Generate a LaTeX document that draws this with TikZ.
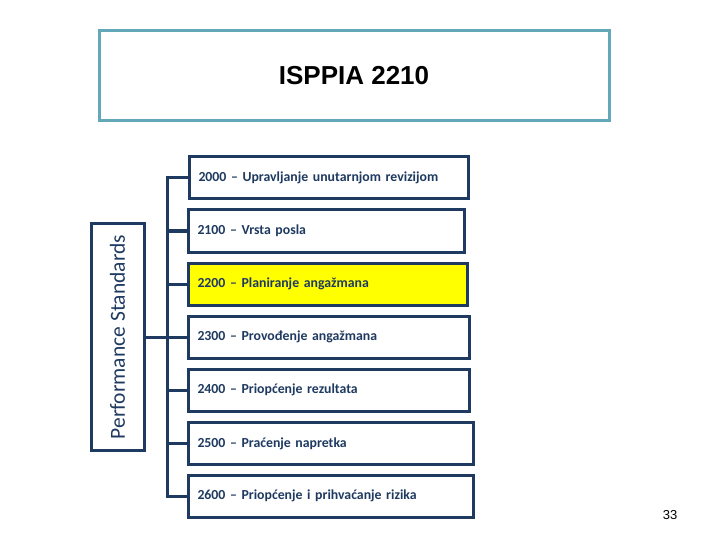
\documentclass[tikz,border=0pt]{standalone}
\usepackage{fontspec}
\setmainfont{Carlito}
\newfontfamily\arialfont{Liberation Sans}
\usetikzlibrary{positioning}
\definecolor{plava}{HTML}{1F3A60}
\definecolor{tirkiz}{HTML}{62A8B8}
\definecolor{zuta}{HTML}{FFFF00}

\begin{document}
\begin{tikzpicture}[
  x=1pt, y=-1pt,
  standard/.style={draw=plava, line width=3pt, fill=white, anchor=west,
    minimum height=42pt, inner xsep=9pt, text width=#1, align=left,
    text=plava, font=\fontsize{13.8}{16}\selectfont\bfseries},
  veza/.style={draw=plava, line width=3pt}
]
  \useasboundingbox (0,0) rectangle (720,540);
  \node[draw=tirkiz, line width=3pt, minimum width=510pt, minimum height=90pt,
    font=\arialfont\bfseries\fontsize{26}{30}\selectfont] (naslov) at (354,76) {ISPPIA 2210};
  \node[draw=plava, line width=3pt, rotate=90, minimum width=226pt, minimum height=53pt,
    text=plava, font=\fontsize{21.5}{24}\selectfont] (perf) at (117.5,337) {Performance Standards};
  % standardi izvedbe
  \node[standard=261pt] (s2000) at (188,177.5) {2000 -- Upravljanje unutarnjom revizijom};
  \node[standard=258pt] (s2100) at (187,231) {2100 -- Vrsta posla};
  \node[standard=261pt, fill=zuta] (s2200) at (187,284) {2200 -- Planiranje angažmana};
  \node[standard=263pt] (s2300) at (187,337) {2300 -- Provođenje angažmana};
  \node[standard=263pt] (s2400) at (187,390) {2400 -- Priopćenje rezultata};
  \node[standard=267pt] (s2500) at (187,443.5) {2500 -- Praćenje napretka};
  \node[standard=267pt] (s2600) at (187,496) {2600 -- Priopćenje i prihvaćanje rizika};
  \coordinate (deblo) at (167,177.5);
  \draw[veza] (s2000.west) -- (deblo) -- (deblo |- s2600.west) -- (s2600.west);
  \foreach \s in {2100,2200,2300,2400,2500}
    \draw[veza] (s\s.west) -- (deblo |- s\s.west);
  \draw[veza] (perf.south) -- (deblo |- perf.south);
  \node[font=\arialfont\fontsize{13}{15}\selectfont] (stranica) at (670,515) {33};
\end{tikzpicture}
\end{document}
